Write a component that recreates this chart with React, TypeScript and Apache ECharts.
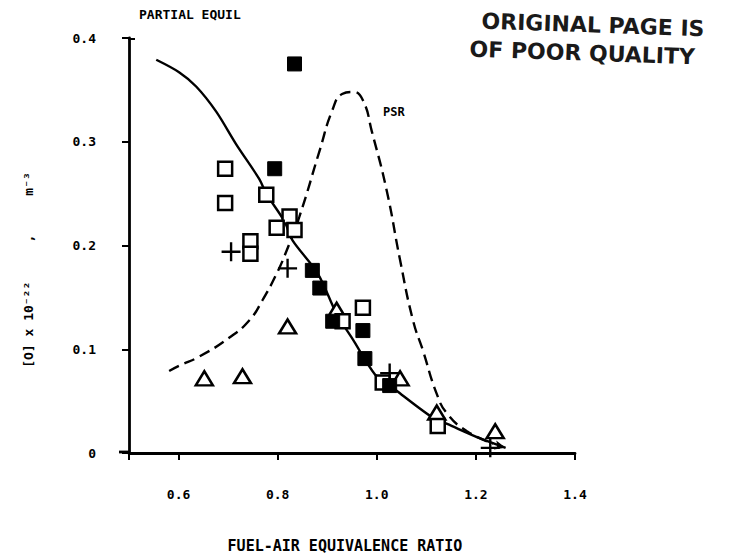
import React, { useEffect, useRef } from "react";
import * as echarts from "echarts";

// ---- data ----
const xTickValues = [0.5, 0.6, 0.8, 1.0, 1.2, 1.4];
const xLabelValues = [0.6, 0.8, 1.0, 1.2, 1.4];

const partialEquil: [number, number][] = [
  [0.555, 0.379], [0.601, 0.367], [0.636, 0.353], [0.676, 0.329], [0.717, 0.297],
  [0.763, 0.264], [0.777, 0.25], [0.814, 0.223], [0.83, 0.205], [0.881, 0.173],
  [0.919, 0.134], [0.951, 0.11], [0.996, 0.076], [1.02, 0.068], [1.04, 0.06],
  [1.113, 0.034], [1.142, 0.028], [1.209, 0.014], [1.26, 0.005],
];

const psr: [number, number][] = [
  [0.581, 0.079], [0.601, 0.084], [0.642, 0.093], [0.702, 0.111], [0.743, 0.128],
  [0.769, 0.147], [0.798, 0.173], [0.818, 0.195], [0.844, 0.228], [0.885, 0.292],
  [0.91, 0.33], [0.93, 0.346], [0.952, 0.348], [0.972, 0.34], [0.99, 0.31],
  [1.02, 0.253], [1.047, 0.186], [1.073, 0.128], [1.093, 0.099], [1.121, 0.057],
  [1.142, 0.038], [1.182, 0.021], [1.235, 0.009],
];

const openSquares: [number, number][] = [
  [0.694, 0.274], [0.694, 0.241], [0.777, 0.249], [0.824, 0.228], [0.798, 0.217],
  [0.834, 0.215], [0.745, 0.204], [0.745, 0.192], [0.931, 0.127], [0.972, 0.14],
  [1.012, 0.068], [1.123, 0.026],
];

const filledSquares: [number, number][] = [
  [0.834, 0.375], [0.794, 0.274], [0.87, 0.176], [0.885, 0.159], [0.911, 0.127],
  [0.972, 0.118], [0.976, 0.091], [1.026, 0.065],
];

const triangles: [number, number][] = [
  [0.652, 0.072], [0.729, 0.074], [0.82, 0.122], [0.919, 0.138], [1.047, 0.072],
  [1.121, 0.039], [1.239, 0.021],
];

const pluses: [number, number][] = [
  [0.706, 0.194], [0.82, 0.178], [1.026, 0.077], [1.229, 0.005],
];

const MONO = '"DejaVu Sans Mono", monospace';
const STAMP = '"DejaVu Sans", sans-serif';
const PLUS_PATH =
  "path://M8.75,0 H11.25 V8.75 H20 V11.25 H11.25 V20 H8.75 V11.25 H0 V8.75 H8.75 Z";

export default function App() {
  const ref = useRef<HTMLDivElement>(null);

  useEffect(() => {
    if (!ref.current) return;
    const chart = echarts.init(ref.current, null, { renderer: "svg" });

    const peLine = partialEquil.map((p, i) =>
      i === partialEquil.length - 1
        ? { value: p, symbol: "arrow", symbolSize: [7, 11], symbolRotate: -105 }
        : { value: p }
    );

    chart.setOption({
      animation: false,
      backgroundColor: "#fff",
      grid: { left: 129, right: 165, top: 38, bottom: 104 },
      xAxis: {
        type: "value",
        min: 0.5,
        max: 1.4,
        axisLine: { show: true, lineStyle: { color: "#000", width: 2.8 } },
        axisTick: {
          show: true,
          length: 7,
          customValues: xTickValues,
          lineStyle: { color: "#000", width: 2 },
        },
        axisLabel: {
          customValues: xLabelValues,
          formatter: (v: number) => v.toFixed(1),
          margin: 35,
          color: "#000",
          fontFamily: MONO,
          fontWeight: "bold",
          fontSize: 13,
        },
        splitLine: { show: false },
      },
      yAxis: {
        type: "value",
        min: 0,
        max: 0.4,
        interval: 0.1,
        axisLine: { show: true, lineStyle: { color: "#000", width: 2.8 } },
        axisTick: { show: true, length: 7, lineStyle: { color: "#000", width: 2 } },
        axisLabel: {
          formatter: (v: number) => (v === 0 ? "0" : v.toFixed(1)),
          margin: 33,
          color: "#000",
          fontFamily: MONO,
          fontWeight: "bold",
          fontSize: 13,
        },
        splitLine: { show: false },
      },
      series: [
        {
          type: "line",
          name: "PARTIAL EQUIL",
          data: peLine,
          smooth: 0.3,
          symbol: "none",
          showSymbol: true,
          itemStyle: { color: "#000", opacity: 1 },
          lineStyle: { color: "#000", width: 2.4 },
          z: 2,
        },
        {
          type: "line",
          name: "PSR",
          data: psr,
          smooth: 0.5,
          showSymbol: false,
          symbol: "none",
          lineStyle: { color: "#000", width: 2.4, type: [11, 6] },
          z: 2,
        },
        {
          type: "scatter",
          data: triangles,
          symbol: "triangle",
          symbolSize: [17, 14],
          itemStyle: { color: "#fff", borderColor: "#000", borderWidth: 2.5, opacity: 1 },
          z: 3,
        },
        {
          type: "scatter",
          data: openSquares,
          symbol: "rect",
          symbolSize: 14,
          itemStyle: { color: "#fff", borderColor: "#000", borderWidth: 2.5, opacity: 1 },
          z: 4,
        },
        {
          type: "scatter",
          data: filledSquares,
          symbol: "rect",
          symbolSize: 14,
          itemStyle: { color: "#000", borderColor: "#000", borderWidth: 1, opacity: 1 },
          z: 5,
        },
        {
          type: "scatter",
          data: pluses,
          symbol: PLUS_PATH,
          symbolSize: 19,
          itemStyle: { color: "#000", opacity: 1 },
          z: 6,
        },
      ],
      graphic: [
        {
          type: "line",
          shape: { x1: 119, y1: 452, x2: 130, y2: 452 },
          style: { stroke: "#000", lineWidth: 2.8 },
        },
        {
          type: "line",
          shape: { x1: 128, y1: 39, x2: 135, y2: 39 },
          style: { stroke: "#000", lineWidth: 2 },
        },
        {
          type: "text",
          x: 139,
          y: 8,
          style: {
            text: "PARTIAL EQUIL",
            font: `bold 13px ${MONO}`,
            fill: "#000",
            textVerticalAlign: "top",
          },
        },
        {
          type: "text",
          x: 383,
          y: 106,
          style: {
            text: "PSR",
            font: `bold 12px ${MONO}`,
            fill: "#000",
            textVerticalAlign: "top",
          },
        },
        {
          type: "text",
          x: 28,
          y: 270,
          rotation: Math.PI / 2,
          style: {
            text: "[O] x 10\u207B\u00B2\u00B2     ,     m\u207B\u00B3",
            font: `bold 13px ${MONO}`,
            fill: "#000",
            textAlign: "center",
            textVerticalAlign: "middle",
          },
        },
        {
          type: "text",
          x: 345,
          y: 546,
          style: {
            text: "FUEL-AIR EQUIVALENCE RATIO",
            font: `bold 15px ${MONO}`,
            fill: "#000",
            textAlign: "center",
            textVerticalAlign: "middle",
          },
        },
        {
          type: "text",
          x: 482,
          y: 10,
          rotation: -0.035,
          style: {
            text: "ORIGINAL PAGE IS",
            font: `bold 22px ${STAMP}`,
            fill: "#1a1a1a",
            textVerticalAlign: "top",
          },
        },
        {
          type: "text",
          x: 470,
          y: 38,
          rotation: -0.035,
          style: {
            text: "OF POOR QUALITY",
            font: `bold 22px ${STAMP}`,
            fill: "#1a1a1a",
            textVerticalAlign: "top",
          },
        },
      ],
    });

    return () => chart.dispose();
  }, []);

  return (
    <div
      ref={ref}
      style={{ position: "fixed", left: 0, top: 0, width: 740, height: 557 }}
    />
  );
}
